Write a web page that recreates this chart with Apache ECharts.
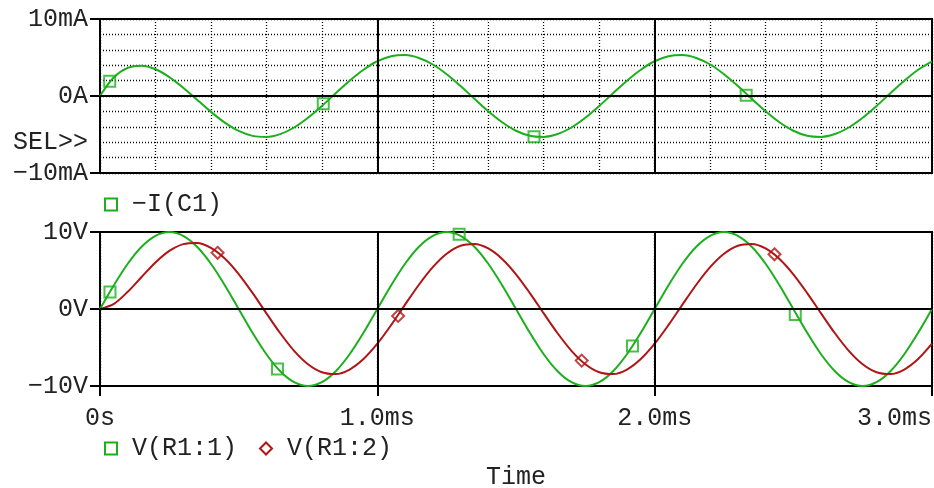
<!DOCTYPE html>
<html>
<head>
<meta charset="utf-8">
<script src="https://cdn.jsdelivr.net/npm/echarts@6/dist/echarts.min.js"></script>
<style>
  html, body { margin: 0; padding: 0; background: #fff; }
  #main { width: 934px; height: 488px; }
</style>
</head>
<body>
<div id="main"></div>
<script>
var timeMs = [0, 0.05, 0.1, 0.15, 0.2, 0.25, 0.3, 0.35, 0.4, 0.45, 0.5, 0.55, 0.6, 0.65, 0.7, 0.75, 0.8, 0.85, 0.9, 0.95,
  1.0, 1.05, 1.1, 1.15, 1.2, 1.25, 1.3, 1.35, 1.4, 1.45, 1.5, 1.55, 1.6, 1.65, 1.7, 1.75, 1.8, 1.85, 1.9, 1.95,
  2.0, 2.05, 2.1, 2.15, 2.2, 2.25, 2.3, 2.35, 2.4, 2.45, 2.5, 2.55, 2.6, 2.65, 2.7, 2.75, 2.8, 2.85, 2.9, 2.95, 3.0];

// -I(C1) in mA
var currentC1 = [0, 2.43, 3.65, 3.93, 3.48, 2.46, 1.08, -0.49, -2.06, -3.46, -4.54, -5.18, -5.32, -4.95, -4.09, -2.83, -1.30, 0.36, 1.98, 3.41,
  4.51, 5.16, 5.31, 4.94, 4.09, 2.83, 1.30, -0.36, -1.98, -3.41, -4.51, -5.16, -5.31, -4.94, -4.09, -2.83, -1.30, 0.36, 1.98, 3.41,
  4.51, 5.16, 5.31, 4.94, 4.09, 2.83, 1.30, -0.36, -1.98, -3.41, -4.51, -5.16, -5.31, -4.94, -4.09, -2.83, -1.30, 0.36, 1.98, 3.41, 4.51];

// V(R1:1) in V
var vR1n1 = [0, 3.09, 5.88, 8.09, 9.51, 10, 9.51, 8.09, 5.88, 3.09, 0, -3.09, -5.88, -8.09, -9.51, -10, -9.51, -8.09, -5.88, -3.09,
  0, 3.09, 5.88, 8.09, 9.51, 10, 9.51, 8.09, 5.88, 3.09, 0, -3.09, -5.88, -8.09, -9.51, -10, -9.51, -8.09, -5.88, -3.09,
  0, 3.09, 5.88, 8.09, 9.51, 10, 9.51, 8.09, 5.88, 3.09, 0, -3.09, -5.88, -8.09, -9.51, -10, -9.51, -8.09, -5.88, -3.09, 0];

// V(R1:2) in V
var vR1n2 = [0, 0.66, 2.23, 4.16, 6.04, 7.54, 8.43, 8.58, 7.94, 6.55, 4.54, 2.09, -0.56, -3.15, -5.43, -7.17, -8.21, -8.45, -7.86, -6.50,
  -4.51, -2.07, 0.57, 3.15, 5.43, 7.17, 8.21, 8.45, 7.86, 6.50, 4.51, 2.07, -0.57, -3.15, -5.43, -7.17, -8.21, -8.45, -7.86, -6.50,
  -4.51, -2.07, 0.57, 3.15, 5.43, 7.17, 8.21, 8.45, 7.86, 6.50, 4.51, 2.07, -0.57, -3.15, -5.43, -7.17, -8.21, -8.45, -7.86, -6.50, -4.51];

// marker points [time ms, value]
var currentMarks = [[0.035, 1.9], [0.805, -1.0], [1.565, -5.3], [2.33, 0.1]];
var vR1n1Marks = [[0.036, 2.2], [0.64, -7.8], [1.295, 9.7], [1.92, -4.8], [2.507, -0.7]];
var vR1n2Marks = [[0.424, 7.3], [1.075, -0.9], [1.737, -6.7], [2.432, 7.1]];

var timeTicks = [0, 1, 2, 3];
var timeTickLabels = ['0s', '1.0ms', '2.0ms', '3.0ms'];
var currentTicks = [-10, -6, 0, 10];
var currentTickLabels = ['−10mA', 'SEL>>', '0A', '10mA'];
var voltTicks = [-10, 0, 10];
var voltTickLabels = ['−10V', '0V', '10V'];
var majorTimes = [1, 2];

var GREEN = '#1bb01b';
var RED = '#b01414';
var FONT = '"Liberation Mono", "DejaVu Sans Mono", monospace';
var FS = 25;

function zip(xs, ys) {
  return xs.map(function (x, i) { return [x, ys[i]]; });
}
function lookup(vals, labels) {
  return function (v) {
    for (var i = 0; i < vals.length; i++) {
      if (Math.abs(vals[i] - v) < 1e-6) return labels[i];
    }
    return '';
  };
}

var majorLines = majorTimes.map(function (t) { return { xAxis: t }; }).concat([{ yAxis: 0 }]);
var markLineStyle = {
  silent: true,
  symbol: ['none', 'none'],
  label: { show: false },
  lineStyle: { color: '#000', width: 2, type: 'solid' },
  data: majorLines
};

var dotted = { show: true, lineStyle: { color: '#000', width: 1.3, type: [1, 2] } };
var axisLine = { show: true, onZero: false, lineStyle: { color: '#000', width: 2 } };
var labelStyle = { fontFamily: FONT, fontSize: FS, color: '#222' };

var myChart = echarts.init(document.getElementById('main'));

var option = {
  backgroundColor: '#fff',
  animation: false,
  grid: [
    { left: 100, right: 2, top: 19, height: 154, show: true, borderColor: '#000', borderWidth: 2, containLabel: false, outerBoundsMode: 'none' },
    { left: 100, right: 2, top: 232, height: 154, show: true, borderColor: '#000', borderWidth: 2, containLabel: false, outerBoundsMode: 'none' }
  ],
  legend: [{
    selectedMode: false,
    left: 99,
    top: 187,
    itemWidth: 12,
    itemHeight: 12,
    textStyle: { fontFamily: FONT, fontSize: FS, color: '#222', padding: [0, 0, 0, 10] },
    data: [{ name: '−I(C1)', icon: 'rect', itemStyle: { color: 'rgba(0,0,0,0)', borderColor: GREEN, borderWidth: 2 } }]
  }, {
    selectedMode: false,
    left: 99,
    top: 431,
    itemWidth: 12,
    itemHeight: 12,
    itemGap: 22,
    textStyle: { fontFamily: FONT, fontSize: FS, color: '#222', padding: [0, 0, 0, 10] },
    data: [
      { name: 'V(R1:1)', icon: 'rect', itemStyle: { color: 'rgba(0,0,0,0)', borderColor: GREEN, borderWidth: 2 } },
      { name: 'V(R1:2)', icon: 'diamond', itemStyle: { color: 'rgba(0,0,0,0)', borderColor: RED, borderWidth: 2 } }
    ]
  }],
  xAxis: [{
    gridIndex: 0, type: 'value', min: 0, max: 3, interval: 0.2,
    axisLine: axisLine,
    axisTick: { show: false },
    axisLabel: { show: false },
    splitLine: dotted
  }, {
    gridIndex: 1, type: 'value', min: 0, max: 3, interval: 0.2,
    axisLine: axisLine,
    axisTick: { show: true, customValues: timeTicks, length: 10, lineStyle: { color: '#000', width: 2 } },
    axisLabel: Object.assign({ customValues: timeTicks, formatter: lookup(timeTicks, timeTickLabels), margin: 20, alignMaxLabel: 'right' }, labelStyle),
    splitLine: dotted,
    name: 'Time',
    nameLocation: 'middle',
    nameGap: 79,
    nameTextStyle: labelStyle
  }],
  yAxis: [{
    gridIndex: 0, type: 'value', min: -10, max: 10, interval: 2,
    axisLine: axisLine,
    axisTick: { show: true, customValues: [-10, 0, 10], length: 10, lineStyle: { color: '#000', width: 2 } },
    axisLabel: Object.assign({ customValues: currentTicks, formatter: lookup(currentTicks, currentTickLabels), margin: 12 }, labelStyle),
    splitLine: { show: false }
  }, {
    gridIndex: 1, type: 'value', min: -10, max: 10, interval: 10,
    axisLine: axisLine,
    axisTick: { show: true, customValues: voltTicks, length: 10, lineStyle: { color: '#000', width: 2 } },
    axisLabel: Object.assign({ customValues: voltTicks, formatter: lookup(voltTicks, voltTickLabels), margin: 12 }, labelStyle),
    splitLine: { show: false }
  }, {
    // dotted 2mA grid of the current plot
    gridIndex: 0, type: 'value', min: -10, max: 10, interval: 2, position: 'right',
    axisLine: { show: false },
    axisTick: { show: false },
    axisLabel: { show: false },
    splitLine: dotted
  }],
  series: [{
    name: '−I(C1)',
    type: 'line',
    xAxisIndex: 0, yAxisIndex: 0,
    data: zip(timeMs, currentC1),
    smooth: 0.3,
    showSymbol: false,
    lineStyle: { color: GREEN, width: 2 },
    itemStyle: { color: GREEN },
    markLine: markLineStyle,
    z: 3
  }, {
    name: 'V(R1:1)',
    type: 'line',
    xAxisIndex: 1, yAxisIndex: 1,
    data: zip(timeMs, vR1n1),
    smooth: 0.3,
    showSymbol: false,
    lineStyle: { color: GREEN, width: 2 },
    itemStyle: { color: GREEN },
    markLine: markLineStyle,
    z: 3
  }, {
    name: 'V(R1:2)',
    type: 'line',
    xAxisIndex: 1, yAxisIndex: 1,
    data: zip(timeMs, vR1n2),
    smooth: 0.3,
    showSymbol: false,
    lineStyle: { color: RED, width: 2 },
    itemStyle: { color: RED },
    z: 3
  }, {
    name: 'marks -I(C1)',
    type: 'scatter',
    xAxisIndex: 0, yAxisIndex: 0,
    data: currentMarks,
    symbol: 'rect',
    symbolSize: 11,
    itemStyle: { color: 'rgba(0,0,0,0)', borderColor: GREEN, borderWidth: 2 },
    z: 4
  }, {
    name: 'marks V(R1:1)',
    type: 'scatter',
    xAxisIndex: 1, yAxisIndex: 1,
    data: vR1n1Marks,
    symbol: 'rect',
    symbolSize: 11,
    itemStyle: { color: 'rgba(0,0,0,0)', borderColor: GREEN, borderWidth: 2 },
    z: 4
  }, {
    name: 'marks V(R1:2)',
    type: 'scatter',
    xAxisIndex: 1, yAxisIndex: 1,
    data: vR1n2Marks,
    symbol: 'diamond',
    symbolSize: 12,
    itemStyle: { color: 'rgba(0,0,0,0)', borderColor: RED, borderWidth: 2 },
    z: 4
  }]
};
myChart.setOption(option);
</script>
</body>
</html>
